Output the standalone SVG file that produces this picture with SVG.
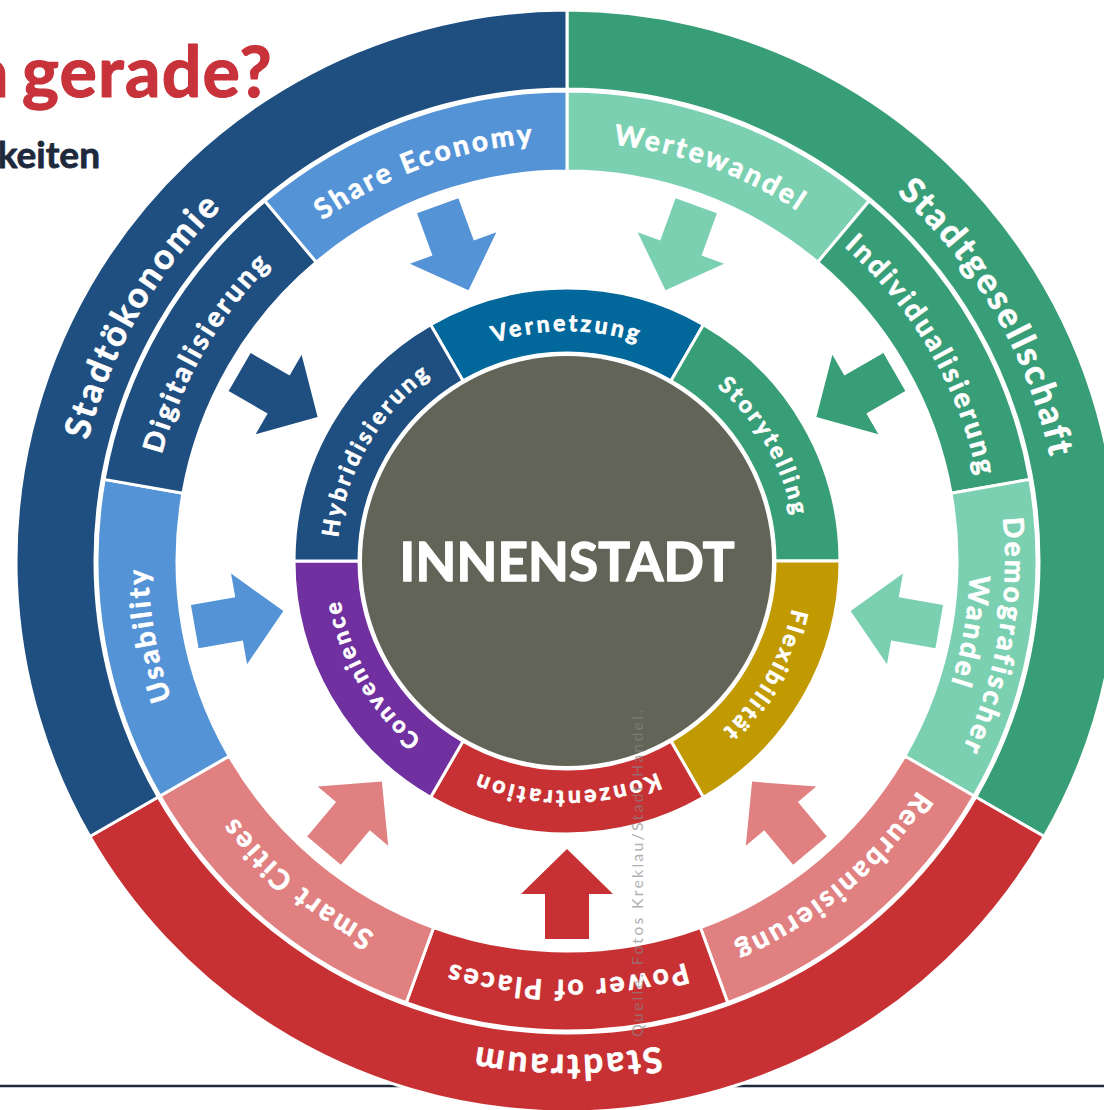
<svg xmlns="http://www.w3.org/2000/svg" width="1104" height="1110" viewBox="0 0 1104 1110">
<style>
.seg{stroke:#fff;stroke-width:3;stroke-linejoin:miter}
.lbl{font-family:Lato,"Liberation Sans",sans-serif;font-weight:700;fill:#fff;stroke:#fff;stroke-width:0.7px;stroke-linejoin:round;text-anchor:middle}
.o{font-size:35px;letter-spacing:2.8px}
.m{font-size:28px;letter-spacing:2.9px}
.i{font-size:23px;letter-spacing:3.1px}
.c-db{fill:#1f4f80}.c-lb{fill:#5593d7}.c-g{fill:#389e78}.c-lg{fill:#7bd0b1}.c-r{fill:#c83133}.c-p{fill:#e08080}
.c-vb{fill:#02679b}.c-gold{fill:#c09a00}.c-pu{fill:#7030a0}
.hd{font-family:Lato,"Liberation Sans",sans-serif;font-weight:700;stroke-linejoin:round}
</style>
<defs>
<path id="aO" d="M80.50,475.22 A494,494 0 0 1 1053.50,475.22" fill="none"/>
<path id="aM" d="M154.36,488.24 A419,419 0 0 1 979.64,488.24" fill="none"/>
<path id="aMA" d="M135.65,484.94 A438,438 0 0 1 998.35,484.94" fill="none"/>
<path id="aMB" d="M170.12,491.02 A403,403 0 0 1 963.88,491.02" fill="none"/>
<path id="aI" d="M340.49,521.06 A230,230 0 0 1 793.51,521.06" fill="none"/>
<path id="arrow" d="M545,183 L589,183 L589,228 L613,228 L567,273 L521,228 L545,228 Z"/>
</defs>

<g id="header">
<line x1="0" y1="1086" x2="1104" y2="1086" stroke="#1e2a3c" stroke-width="2.5"/>
<text class="hd" y="97" font-size="70" letter-spacing="1.2" fill="#c8323a" stroke="#c8323a" stroke-width="1.2"><tspan x="-27">a</tspan><tspan x="22">gerade?</tspan></text>
<text class="hd" x="100" y="168" text-anchor="end" font-size="37" fill="#1e2a3c" stroke="#1e2a3c" stroke-width="0.8">keiten</text>
</g>

<!-- outer ring -->
<g id="stadtgesellschaft">
<path class="seg c-g" d="M567,10 A551,551 0 0 1 1044.18,836.5 L975.77,797 A472,472 0 0 0 567,89 Z"/>
<g transform="rotate(60 567 561)"><text class="lbl o"><textPath href="#aO" startOffset="50%">Stadtgesellschaft</textPath></text></g>
</g>
<g id="stadtraum">
<path class="seg c-r" d="M1044.18,836.5 A551,551 0 0 1 89.82,836.5 L158.23,797 A472,472 0 0 0 975.77,797 Z"/>
<g transform="rotate(180 567 561)"><text class="lbl o"><textPath href="#aO" startOffset="50%">Stadtraum</textPath></text></g>
</g>
<g id="stadtoekonomie">
<path class="seg c-db" d="M89.82,836.5 A551,551 0 0 1 567,10 L567,89 A472,472 0 0 0 158.23,797 Z"/>
<g transform="rotate(300 567 561)"><text class="lbl o"><textPath href="#aO" startOffset="50%">Stadtökonomie</textPath></text></g>
</g>

<!-- middle ring -->
<g id="wertewandel">
<path class="seg c-lg" d="M567,91 A470,470 0 0 1 869.11,200.96 L817.69,262.24 A390,390 0 0 0 567,171 Z"/>
<g transform="rotate(20 567 561)"><text class="lbl m"><textPath href="#aM" startOffset="50%">Wertewandel</textPath></text></g>
</g>
<g id="individualisierung">
<path class="seg c-g" d="M869.11,200.96 A470,470 0 0 1 1029.86,479.38 L951.08,493.28 A390,390 0 0 0 817.69,262.24 Z"/>
<g transform="rotate(60 567 561)"><text class="lbl m"><textPath href="#aM" startOffset="50%">Individualisierung</textPath></text></g>
</g>
<g id="demografischer-wandel">
<path class="seg c-lg" d="M1029.86,479.38 A470,470 0 0 1 974.03,796 L904.75,756 A390,390 0 0 0 951.08,493.28 Z"/>
<g transform="rotate(100 567 561)"><text class="lbl m"><textPath href="#aMA" startOffset="50%">Demografischer</textPath></text><text class="lbl m"><textPath href="#aMB" startOffset="50%">Wandel</textPath></text></g>
</g>
<g id="reurbanisierung">
<path class="seg c-p" d="M974.03,796 A470,470 0 0 1 727.75,1002.65 L700.39,927.48 A390,390 0 0 0 904.75,756 Z"/>
<g transform="rotate(140 567 561)"><text class="lbl m"><textPath href="#aM" startOffset="50%">Reurbanisierung</textPath></text></g>
</g>
<g id="power-of-places">
<path class="seg c-r" d="M727.75,1002.65 A470,470 0 0 1 406.25,1002.65 L433.61,927.48 A390,390 0 0 0 700.39,927.48 Z"/>
<g transform="rotate(180 567 561)"><text class="lbl m"><textPath href="#aM" startOffset="50%">Power of Places</textPath></text></g>
</g>
<g id="smart-cities">
<path class="seg c-p" d="M406.25,1002.65 A470,470 0 0 1 159.97,796 L229.25,756 A390,390 0 0 0 433.61,927.48 Z"/>
<g transform="rotate(220 567 561)"><text class="lbl m"><textPath href="#aM" startOffset="50%">Smart Cities</textPath></text></g>
</g>
<g id="usability">
<path class="seg c-lb" d="M159.97,796 A470,470 0 0 1 104.14,479.38 L182.92,493.28 A390,390 0 0 0 229.25,756 Z"/>
<g transform="rotate(260 567 561)"><text class="lbl m"><textPath href="#aM" startOffset="50%">Usability</textPath></text></g>
</g>
<g id="digitalisierung">
<path class="seg c-db" d="M104.14,479.38 A470,470 0 0 1 264.89,200.96 L316.31,262.24 A390,390 0 0 0 182.92,493.28 Z"/>
<g transform="rotate(300 567 561)"><text class="lbl m"><textPath href="#aM" startOffset="50%">Digitalisierung</textPath></text></g>
</g>
<g id="share-economy">
<path class="seg c-lb" d="M264.89,200.96 A470,470 0 0 1 567,91 L567,171 A390,390 0 0 0 316.31,262.24 Z"/>
<g transform="rotate(340 567 561)"><text class="lbl m"><textPath href="#aM" startOffset="50%">Share Economy</textPath></text></g>
</g>

<!-- inner ring -->
<g id="vernetzung">
<path class="seg c-vb" d="M430.5,324.58 A273,273 0 0 1 703.5,324.58 L671,380.87 A208,208 0 0 0 463,380.87 Z"/>
<text class="lbl i"><textPath href="#aI" startOffset="50%">Vernetzung</textPath></text>
</g>
<g id="storytelling">
<path class="seg c-g" d="M703.5,324.58 A273,273 0 0 1 840,561 L775,561 A208,208 0 0 0 671,380.87 Z"/>
<g transform="rotate(60 567 561)"><text class="lbl i"><textPath href="#aI" startOffset="50%">Storytelling</textPath></text></g>
</g>
<g id="flexibilitaet">
<path class="seg c-gold" d="M840,561 A273,273 0 0 1 703.5,797.42 L671,741.13 A208,208 0 0 0 775,561 Z"/>
<g transform="rotate(120 567 561)"><text class="lbl i"><textPath href="#aI" startOffset="50%">Flexibilität</textPath></text></g>
</g>
<g id="konzentration">
<path class="seg c-r" d="M703.5,797.42 A273,273 0 0 1 430.5,797.42 L463,741.13 A208,208 0 0 0 671,741.13 Z"/>
<g transform="rotate(180 567 561)"><text class="lbl i"><textPath href="#aI" startOffset="50%">Konzentration</textPath></text></g>
</g>
<g id="convenience">
<path class="seg c-pu" d="M430.5,797.42 A273,273 0 0 1 294,561 L359,561 A208,208 0 0 0 463,741.13 Z"/>
<g transform="rotate(240 567 561)"><text class="lbl i"><textPath href="#aI" startOffset="50%">Convenience</textPath></text></g>
</g>
<g id="hybridisierung">
<path class="seg c-db" d="M294,561 A273,273 0 0 1 430.5,324.58 L463,380.87 A208,208 0 0 0 359,561 Z"/>
<g transform="rotate(300 567 561)"><text class="lbl i"><textPath href="#aI" startOffset="50%">Hybridisierung</textPath></text></g>
</g>

<g id="innenstadt">
<circle cx="567" cy="561" r="205" fill="#616456"/>
<text class="hd" x="567" y="581" text-anchor="middle" font-size="53" fill="#fff" stroke="#fff" stroke-width="1.4" textLength="335">INNENSTADT</text>
</g>

<g id="connectors">
<use href="#arrow" class="c-lg" transform="rotate(20 567 561)"/>
<use href="#arrow" class="c-g" transform="rotate(60 567 561)"/>
<use href="#arrow" class="c-lg" transform="rotate(100 567 561)"/>
<use href="#arrow" class="c-p" transform="rotate(140 567 561)"/>
<use href="#arrow" class="c-r" transform="rotate(180 567 561)"/>
<use href="#arrow" class="c-p" transform="rotate(220 567 561)"/>
<use href="#arrow" class="c-lb" transform="rotate(260 567 561)"/>
<use href="#arrow" class="c-db" transform="rotate(300 567 561)"/>
<use href="#arrow" class="c-lb" transform="rotate(340 567 561)"/>
</g>

<text transform="translate(643 1037) rotate(-90)" font-family="Lato,'Liberation Sans',sans-serif" font-size="16" fill="#888" opacity="0.65" textLength="327">Quelle: Fotos Kreklau/Stadt Handel.</text>
</svg>
